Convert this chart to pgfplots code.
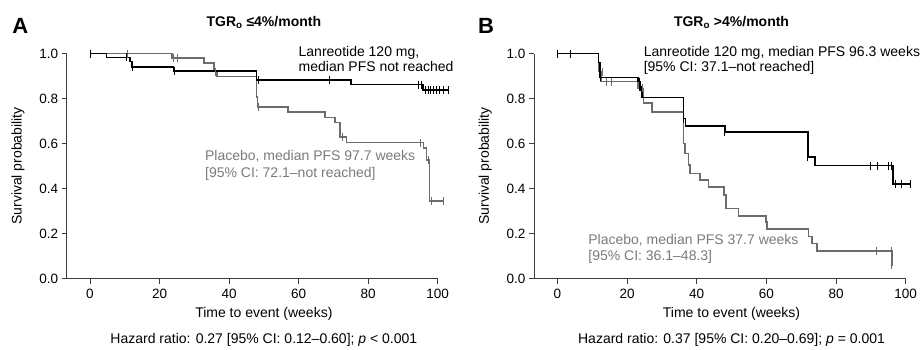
\documentclass[border=0pt]{standalone}
\usepackage{fontspec}
\setmainfont{Liberation Sans}
\usepackage{pgfplots}
\pgfplotsset{compat=1.18}
\definecolor{pgrey}{RGB}{108,108,108}
\definecolor{tgrey}{RGB}{122,122,122}
\definecolor{agrey}{RGB}{60,60,60}
\pgfplotsset{
  km/.style={
    scale only axis, width=371pt, height=225pt,
    xmin=-6.7, xmax=100, ymin=0, ymax=1,
    axis x line=bottom, axis y line=left,
    axis line style={-, agrey, line width=0.8pt},
    tick style={agrey, line width=0.8pt},
    tick align=outside, major tick length=5pt,
    xtick={0,20,...,100}, ytick={0,0.2,0.4,0.6,0.8,1.0},
    yticklabel style={/pgf/number format/.cd, fixed, fixed zerofill, precision=1},
    xticklabel style={yshift=-2pt},
    /pgf/number format/assume math mode=true,
    ticklabel style={font=\fontsize{13.5}{16}\selectfont},
    clip=false,
  },
  blk/.style={const plot, black, line width=1.6pt, mark=none},
  gry/.style={const plot, pgrey, line width=1.6pt, mark=none},
  cb/.style={only marks, mark=|, mark size=4pt, mark options={black, line width=0.8pt}},
  cg/.style={only marks, mark=|, mark size=4pt, mark options={pgrey, line width=0.8pt}},
}
\newcommand{\fs}{\fontsize{14}{16}\selectfont}
\begin{document}
\begin{tikzpicture}
\useasboundingbox (0,0) rectangle (922pt,349pt);
% Panel A
\begin{axis}[km, at={(66.7pt,70.5pt)}, anchor=south west]
\addplot[gry] coordinates {(0,1) (23.5,0.979) (32.8,0.959) (35.6,0.92) (36.5,0.897) (47.9,0.808) (48.2,0.761) (57,0.739) (67.6,0.716) (70.5,0.694) (71.9,0.63) (73.8,0.604) (95.9,0.579) (96.8,0.527) (97.6,0.344) (101.6,0.344)};
\addplot[cg] coordinates {(10.8,1) (24,0.979) (25,0.979) (36,0.92) (48.5,0.761) (72.5,0.63) (95,0.604) (97.2,0.527) (98.2,0.344) (101.6,0.344)};
\addplot[blk] coordinates {(0,1) (4.8,0.983) (11.5,0.964) (12,0.941) (24,0.922) (47.9,0.882) (75.1,0.862) (95.8,0.838) (103,0.838)};
\addplot[cb] coordinates {(0,1) (10.4,0.983) (12.3,0.941) (24.2,0.922) (48.5,0.882) (68.8,0.882) (94.4,0.862) (95.4,0.862) (96.5,0.838) (97.3,0.838) (98,0.838) (98.8,0.838) (99.6,0.838) (100.5,0.838) (101.5,0.838) (103,0.838)};
\node[anchor=base west, font=\fs] at (axis cs:59,0.986) {Lanreotide 120 mg,};
\node[anchor=base west, font=\fs] at (axis cs:59,0.919) {median PFS not reached};
\node[anchor=base west, font=\fs, text=tgrey] at (axis cs:32.1,0.524) {Placebo, median PFS 97.7 weeks};
\node[anchor=base west, font=\fs, text=tgrey] at (axis cs:32.1,0.448) {[95\% CI: 72.1–not reached]};
\node[anchor=base, font=\fs\bfseries] at (axis cs:50,1.119) {TGR\textsubscript{o} ≤4\%/month};
\node[anchor=base west, inner sep=0pt, font=\fontsize{22}{26}\selectfont\bfseries] at (axis cs:-22.4,1.09) {A};
\node[anchor=base, font=\fs] at (axis cs:50,-0.174) {Time to event (weeks)};
\node[anchor=base, font=\fs] at (axis cs:50,-0.288) {Hazard ratio: 0.27 [95\% CI: 0.12–0.60]; \textit{p} < 0.001};
\node[rotate=90, font=\fs] at (axis cs:-20.7,0.5) {Survival probability};
\end{axis}
% Panel B
\begin{axis}[km, width=371.7pt, at={(534pt,70.5pt)}, anchor=south west]
\addplot[gry] coordinates {(0,1) (11.8,0.92) (12.6,0.875) (23.1,0.845) (24.7,0.779) (27.1,0.741) (36.2,0.6) (36.7,0.556) (37.6,0.504) (38.1,0.467) (41,0.438) (43.4,0.406) (47.9,0.371) (48.4,0.312) (52,0.279) (59.9,0.252) (60.2,0.22) (72.1,0.186) (73.1,0.156) (74.5,0.122) (96,0.06) (96.1,0.06)};
\addplot[cg] coordinates {(12.8,0.92) (14.2,0.875) (15.6,0.875) (24.3,0.845) (91.6,0.122) (96,0.122) (96,0.06)};
\addplot[blk] coordinates {(0,1) (11.8,0.96) (12.2,0.894) (23.1,0.875) (23.8,0.838) (24.3,0.804) (36.2,0.711) (36.8,0.678) (48.1,0.652) (71.9,0.541) (73.9,0.502) (96.3,0.42) (101.3,0.42)};
\addplot[cb] coordinates {(0,1) (3.8,1) (12.5,0.894) (23.5,0.875) (24,0.838) (36.3,0.711) (47.9,0.652) (71.8,0.541) (89.8,0.502) (92,0.502) (95,0.502) (96,0.502) (96.9,0.42) (98.8,0.42) (101.3,0.42)};
\node[anchor=base west, font=\fs] at (axis cs:23.8,0.986) {Lanreotide 120 mg, median PFS 96.3 weeks};
\node[anchor=base west, font=\fs] at (axis cs:23.8,0.919) {[95\% CI: 37.1–not reached]};
\node[anchor=base west, font=\fs, text=tgrey] at (axis cs:7.9,0.152) {Placebo, median PFS 37.7 weeks};
\node[anchor=base west, font=\fs, text=tgrey] at (axis cs:7.9,0.078) {[95\% CI: 36.1–48.3]};
\node[anchor=base, font=\fs\bfseries] at (axis cs:50,1.119) {TGR\textsubscript{o} >4\%/month};
\node[anchor=base west, inner sep=0pt, font=\fontsize{22}{26}\selectfont\bfseries] at (axis cs:-22.8,1.09) {B};
\node[anchor=base, font=\fs] at (axis cs:50,-0.174) {Time to event (weeks)};
\node[anchor=base, font=\fs] at (axis cs:50,-0.288) {Hazard ratio: 0.37 [95\% CI: 0.20–0.69]; \textit{p} = 0.001};
\node[rotate=90, font=\fs] at (axis cs:-20.7,0.5) {Survival probability};
\end{axis}
\end{tikzpicture}
\end{document}
